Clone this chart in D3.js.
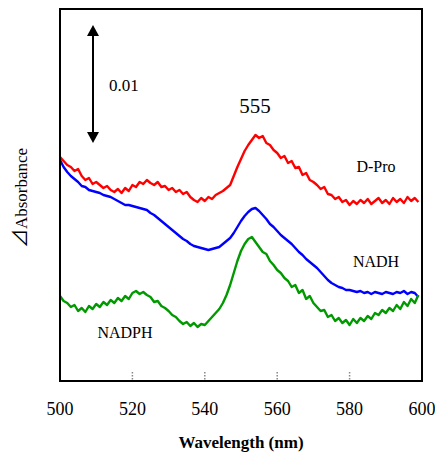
<!DOCTYPE html>
<html>
<head>
<meta charset="utf-8">
<script src="https://cdn.jsdelivr.net/npm/d3@7"></script>
<style>
  body { margin: 0; background: #fff; }
  text { font-family: "Liberation Serif", "Times New Roman", serif; fill: #000; }
</style>
</head>
<body>
<svg id="chart"></svg>
<script>
const width = 435;
const height = 457;

// wavelength grid (nm), 1 nm steps
const wavelengths = d3.range(500, 600, 1);

// difference spectra, relative units (118 units = 0.01 absorbance, see scale bar)
const dPro = [224,220,216,214,210,212,205,201,203,197,199,196,193,195,191,189,192,188,193,190,
  196,194,199,197,201,198,196,199,194,195,191,193,189,191,187,189,184,181,179,183,
  180,184,182,186,188,190,193,196,205,214,222,230,236,241,246,243,245,238,236,231,
  228,223,225,218,220,213,214,206,208,201,199,196,192,194,187,186,182,184,179,181,
  176,180,177,181,178,182,177,180,183,178,181,177,183,179,182,178,184,180,183,179];
const nadh = [221,214,209,205,202,199,195,194,191,190,189,188,186,185,184,182,180,178,176,176,
  175,174,173,172,171,168,166,163,160,157,154,151,148,145,142,140,137,135,134,133,
  132,131,132,133,134,137,140,143,148,154,160,165,169,172,173,170,166,162,157,154,
  150,146,143,140,137,133,129,126,122,119,116,113,109,105,101,98,96,94,93,91,
  91,90,89,90,88,89,87,89,88,87,89,88,87,89,88,90,87,89,88,84];
const nadph = [85,80,78,74,76,70,73,69,75,72,77,74,79,76,81,78,83,80,85,82,
  88,90,87,89,86,84,79,80,75,73,70,66,64,60,57,59,55,58,54,57,
  56,60,64,68,72,78,86,96,108,120,130,137,142,144,139,134,129,127,120,116,
  111,108,103,100,94,96,88,91,82,85,78,74,70,71,64,66,60,63,58,61,
  56,62,58,63,60,65,62,68,66,71,68,73,70,76,72,79,75,82,78,86];

const xTicks = [500, 520, 540, 560, 580, 600];
const innerTicks = [520, 540, 560, 580];
const seriesNames = ["D-Pro", "NADH", "NADPH"];
const seriesColors = ["#ff0000", "#0000ff", "#009900"];
const scaleBarUnits = 118; // = 0.01 absorbance

const svg = d3.select("#chart")
    .attr("width", width)
    .attr("height", height);

const plot = { left: 60, right: 422, top: 9, bottom: 381 };

const x = d3.scaleLinear().domain([500, 600]).range([plot.left, plot.right]);
const y = d3.scaleLinear().domain([0, 372]).range([plot.bottom, plot.top]);

const line = d3.line()
    .x(d => x(d[0]))
    .y(d => y(d[1]));

// spectra
[dPro, nadh, nadph].forEach((vals, i) => {
    svg.append("path")
        .datum(vals.map((v, j) => [wavelengths[j], v]))
        .attr("fill", "none")
        .attr("stroke", seriesColors[i])
        .attr("stroke-width", 2.4)
        .attr("stroke-linejoin", "round")
        .attr("d", line);
});

// frame
svg.append("rect")
    .attr("x", plot.left)
    .attr("y", plot.top)
    .attr("width", plot.right - plot.left)
    .attr("height", plot.bottom - plot.top)
    .attr("fill", "none")
    .attr("stroke", "#000")
    .attr("stroke-width", 2);

// dotted inner ticks
svg.selectAll(".itick")
    .data(innerTicks)
    .enter()
    .append("line")
    .attr("x1", d => x(d))
    .attr("x2", d => x(d))
    .attr("y1", plot.bottom - 9)
    .attr("y2", plot.bottom)
    .attr("stroke", "#888")
    .attr("stroke-width", 1.5)
    .attr("stroke-dasharray", "1.5,1.5");

// x tick labels
svg.selectAll(".xlab")
    .data(xTicks)
    .enter()
    .append("text")
    .attr("x", d => x(d))
    .attr("y", 415)
    .attr("text-anchor", "middle")
    .style("font-size", "18px")
    .text(d => d);

svg.append("text")
    .attr("x", (plot.left + plot.right) / 2)
    .attr("y", 448)
    .attr("text-anchor", "middle")
    .style("font-size", "17px")
    .style("font-weight", "bold")
    .text("Wavelength (nm)");

const yTitle = svg.append("text")
    .attr("transform", "translate(27,198) rotate(-90)")
    .attr("text-anchor", "middle")
    .style("font-size", "17px");
yTitle.append("tspan")
    .style("font-family", "'Noto Sans CJK JP'")
    .style("font-size", "19px")
    .text("⊿");
yTitle.append("tspan").text("Absorbance");

// scale bar arrow
const barX = 93;
const barTop = 25;
const barBottom = barTop + (y(0) - y(scaleBarUnits));
svg.append("line")
    .attr("x1", barX).attr("x2", barX)
    .attr("y1", barTop + 8).attr("y2", barBottom - 8)
    .attr("stroke", "#000")
    .attr("stroke-width", 2);
svg.append("path")
    .attr("d", `M${barX},${barTop} L${barX - 6},${barTop + 11} L${barX + 6},${barTop + 11} Z`)
    .attr("fill", "#000");
svg.append("path")
    .attr("d", `M${barX},${barBottom} L${barX - 6},${barBottom - 11} L${barX + 6},${barBottom - 11} Z`)
    .attr("fill", "#000");
svg.append("text")
    .attr("x", 109)
    .attr("y", 91)
    .style("font-size", "17px")
    .text("0.01");

svg.append("text")
    .attr("x", 255)
    .attr("y", 113)
    .attr("text-anchor", "middle")
    .style("font-size", "21px")
    .text("555");

// series labels
const labelPos = [[376, 172], [376, 267], [125, 338]];
seriesNames.forEach((name, i) => {
    svg.append("text")
        .attr("x", labelPos[i][0])
        .attr("y", labelPos[i][1])
        .attr("text-anchor", "middle")
        .style("font-size", "16px")
        .text(name);
});
</script>
</body>
</html>
